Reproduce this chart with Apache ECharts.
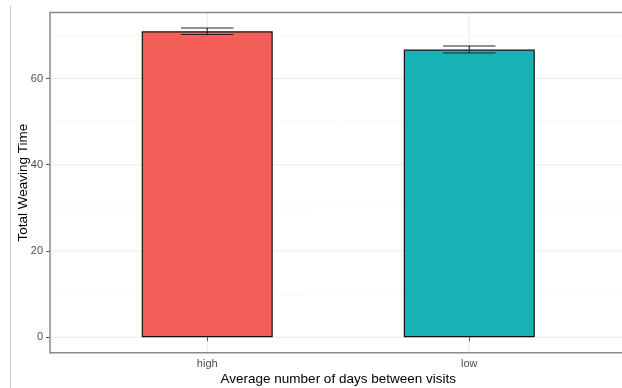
<!DOCTYPE html>
<html>
<head>
<meta charset="utf-8">
<script src="https://cdn.jsdelivr.net/npm/echarts@6/dist/echarts.min.js"></script>
<style>
html,body{margin:0;padding:0;background:#fff;}
#c{width:622px;height:388px;}
</style>
</head>
<body>
<div id="c"></div>
<script>
const categories = ['high', 'low'];
const catPos = [1, 2];
const means = [70.95, 66.7];
const errLow = [70.2, 65.9];
const errHigh = [71.72, 67.55];
const barColors = ['#F35E59', '#17B2B6'];
const yTicks = [0, 20, 40, 60];
const yMinor = [10, 30, 50, 70];

const yTop = Math.max(...errHigh);
const yMin = -0.05 * yTop;
const yMax = 1.05 * yTop;

const FONT = 'Liberation Sans, Arial, Helvetica, sans-serif';
const chart = echarts.init(document.getElementById('c'), null, {renderer: 'canvas'});

// gridline specs: [direction, value, kind]
const gridSpecs = [];
yMinor.forEach(v => gridSpecs.push([0, v, 0]));
yTicks.forEach(v => gridSpecs.push([0, v, 1]));
catPos.forEach(v => gridSpecs.push([1, v, 1]));

chart.setOption({
  animation: false,
  backgroundColor: '#ffffff',
  grid: {
    left: 50, top: 12.5, right: -4.5, bottom: 35.3,
    outerBoundsMode: 'none', containLabel: false,
    show: true, borderColor: '#8a8a8a', borderWidth: 1.5, backgroundColor: 'transparent', z: 10
  },
  graphic: [{
    type: 'line', shape: {x1: 10.5, y1: 6, x2: 10.5, y2: 388},
    style: {stroke: '#cccccc', lineWidth: 1}
  }],
  xAxis: {
    type: 'value', min: 0.4, max: 2.6,
    splitLine: {show: false},
    axisLine: {show: false},
    axisTick: {show: true, length: 4, customValues: catPos, lineStyle: {color: '#555', width: 1}},
    axisLabel: {
      customValues: catPos, margin: 6, color: '#4d4d4d', fontSize: 11, fontFamily: FONT,
      formatter: v => categories[catPos.indexOf(v)] || ''
    },
    name: 'Average number of days between visits',
    nameLocation: 'middle', nameGap: 20, nameMoveOverlap: false,
    nameTextStyle: {color: '#000', fontSize: 13.5, fontFamily: FONT}
  },
  yAxis: {
    type: 'value', min: yMin, max: yMax,
    splitLine: {show: false},
    axisLine: {show: false},
    axisTick: {show: true, length: 4, customValues: yTicks, lineStyle: {color: '#555', width: 1}},
    axisLabel: {customValues: yTicks, margin: 7, color: '#4d4d4d', fontSize: 11, fontFamily: FONT},
    name: 'Total Weaving Time',
    nameLocation: 'middle', nameGap: 20, nameRotate: 90, nameMoveOverlap: false,
    nameTextStyle: {color: '#000', fontSize: 13.5, fontFamily: FONT}
  },
  series: [
    {
      type: 'custom', z: 0, silent: true,
      data: gridSpecs,
      renderItem: function (params, api) {
        const cs = params.coordSys;
        const dir = api.value(0), v = api.value(1), kind = api.value(2);
        const st = {stroke: kind ? '#ebebeb' : '#f2f2f2', lineWidth: kind ? 1.1 : 0.6};
        if (dir === 0) {
          const p = api.coord([1, v]);
          return {type: 'line', shape: {x1: cs.x, y1: p[1], x2: cs.x + cs.width, y2: p[1]}, style: st};
        }
        const p = api.coord([v, 0]);
        return {type: 'line', shape: {x1: p[0], y1: cs.y, x2: p[0], y2: cs.y + cs.height}, style: st};
      }
    },
    {
      type: 'bar', z: 2, barWidth: 131,
      data: catPos.map((x, i) => ({value: [x, means[i]], itemStyle: {color: barColors[i], borderColor: '#111', borderWidth: 1.2}}))
    },
    {
      type: 'custom', z: 3,
      data: catPos.map((x, i) => [x, errLow[i], errHigh[i]]),
      renderItem: function (params, api) {
        const x = api.value(0), lo = api.value(1), hi = api.value(2);
        const hw = 0.1;
        const pLoL = api.coord([x - hw, lo]), pLoR = api.coord([x + hw, lo]);
        const pHiL = api.coord([x - hw, hi]), pHiR = api.coord([x + hw, hi]);
        const pTop = api.coord([x, hi]), pBot = api.coord([x, lo]);
        const st = {stroke: '#222', lineWidth: 1.1};
        return {type: 'group', children: [
          {type: 'line', shape: {x1: pHiL[0], y1: pHiL[1], x2: pHiR[0], y2: pHiR[1]}, style: st},
          {type: 'line', shape: {x1: pLoL[0], y1: pLoL[1], x2: pLoR[0], y2: pLoR[1]}, style: st},
          {type: 'line', shape: {x1: pTop[0], y1: pTop[1], x2: pBot[0], y2: pBot[1]}, style: st}
        ]};
      }
    }
  ]
});
</script>
</body>
</html>
